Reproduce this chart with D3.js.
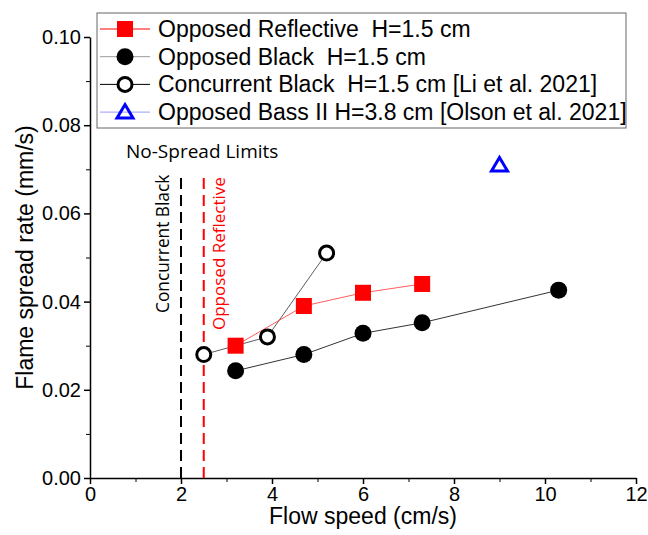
<html>
<head>
<script src="https://d3js.org/d3.v7.min.js"></script>
<style>
body { margin: 0; background: #fff; }
text { white-space: pre; }
</style>
</head>
<body>
<script>
var w = 648, h = 535;

// data
var reflX = [3.2, 4.7, 6.0, 7.3];
var reflY = [0.0300, 0.0390, 0.0420, 0.0440];
var blackX = [3.2, 4.7, 6.0, 7.3, 10.3];
var blackY = [0.0243, 0.0280, 0.0328, 0.0352, 0.0426];
var concX = [2.5, 3.9, 5.2];
var concY = [0.0280, 0.0320, 0.0510];
var bassX = [9.0];
var bassY = [0.0710];
var limitConcurrent = 2.0;
var limitReflective = 2.5;
var xTicks = [0, 2, 4, 6, 8, 10, 12];
var yTicks = [0, 0.02, 0.04, 0.06, 0.08, 0.10];
var legendLabels = ["Opposed Reflective  H=1.5 cm", "Opposed Black  H=1.5 cm",
  "Concurrent Black  H=1.5 cm [Li et al. 2021]", "Opposed Bass II H=3.8 cm [Olson et al. 2021]"];

var m = {left: 90, right: 12, top: 37, bottom: 57};

var svg = d3.select("body").append("svg")
  .attr("width", w).attr("height", h);

var x = d3.scaleLinear().domain([0, 12]).range([m.left, w - m.right]);
var y = d3.scaleLinear().domain([0, 0.10]).range([h - m.bottom, m.top]);

// minor ticks
svg.append("g").attr("transform", "translate(0," + y(0) + ")")
  .call(d3.axisBottom(x).tickValues(d3.range(1, 12, 2)).tickSize(4).tickFormat(""))
  .call(function(g) { g.select(".domain").remove(); });
svg.append("g").attr("transform", "translate(" + x(0) + ",0)")
  .call(d3.axisLeft(y).tickValues([0.01, 0.03, 0.05, 0.07, 0.09]).tickSize(4).tickFormat(""))
  .call(function(g) { g.select(".domain").remove(); });

var xa = svg.append("g").attr("transform", "translate(0," + y(0) + ")")
  .call(d3.axisBottom(x).tickValues(xTicks).tickSize(6).tickSizeOuter(0).tickFormat(d3.format("d")));
var ya = svg.append("g").attr("transform", "translate(" + x(0) + ",0)")
  .call(d3.axisLeft(y).tickValues(yTicks).tickSize(6).tickSizeOuter(0).tickFormat(d3.format(".2f")));

[xa, ya].forEach(function(a) {
  a.selectAll("path, line").attr("stroke", "#000").attr("stroke-width", 1.5);
  a.selectAll("text").attr("font-family", "Liberation Sans, Arial, sans-serif")
    .attr("font-size", 20).attr("fill", "#000");
});

svg.append("text").text("Flow speed (cm/s)")
  .attr("x", (x(0) + x(12)) / 2).attr("y", 524)
  .attr("text-anchor", "middle")
  .attr("font-family", "Liberation Sans, Arial, sans-serif").attr("font-size", 23);
svg.append("text").text("Flame spread rate (mm/s)")
  .attr("transform", "translate(33," + ((y(0) + y(0.1)) / 2) + ") rotate(-90)")
  .attr("text-anchor", "middle")
  .attr("font-family", "Liberation Sans, Arial, sans-serif").attr("font-size", 23);

// no-spread limit lines
svg.append("line")
  .attr("x1", x(limitConcurrent)).attr("x2", x(limitConcurrent))
  .attr("y1", y(0)).attr("y2", 174)
  .attr("stroke", "#000").attr("stroke-width", 2).attr("stroke-dasharray", "11,6");
svg.append("line")
  .attr("x1", x(limitReflective)).attr("x2", x(limitReflective))
  .attr("y1", y(0)).attr("y2", 174)
  .attr("stroke", "#f00").attr("stroke-width", 2).attr("stroke-dasharray", "11,6");

var labFont = "Open Sans, Noto Sans, sans-serif";
svg.append("text").text("No-Spread Limits")
  .attr("x", 126).attr("y", 158)
  .attr("font-family", labFont).attr("font-size", 19);
svg.append("text").text("Concurrent Black")
  .attr("transform", "translate(" + (x(limitConcurrent) - 12) + ",313) rotate(-90)")
  .attr("font-family", labFont).attr("font-size", 17.3);
svg.append("text").text("Opposed Reflective")
  .attr("transform", "translate(" + (x(limitReflective) + 21) + ",330) rotate(-90)")
  .attr("fill", "#f00")
  .attr("font-family", labFont).attr("font-size", 17);

var line = d3.line().x(function(d) { return x(d[0]); }).y(function(d) { return y(d[1]); });
var refl = d3.zip(reflX, reflY), black = d3.zip(blackX, blackY),
    conc = d3.zip(concX, concY), bass = d3.zip(bassX, bassY);

svg.append("path").datum(black).attr("d", line)
  .attr("fill", "none").attr("stroke", "#333").attr("stroke-width", 1);
svg.append("path").datum(conc).attr("d", line)
  .attr("fill", "none").attr("stroke", "#333").attr("stroke-width", 0.8);
svg.append("path").datum(refl).attr("d", line)
  .attr("fill", "none").attr("stroke", "#f33").attr("stroke-width", 0.8);

var sq = 16;
function drawSquare(g, cx, cy) {
  g.append("rect").attr("x", cx - sq / 2).attr("y", cy - sq / 2)
    .attr("width", sq).attr("height", sq).attr("fill", "#f00");
}
function drawDot(g, cx, cy) {
  g.append("circle").attr("cx", cx).attr("cy", cy).attr("r", 8.5).attr("fill", "#000");
}
function drawOpen(g, cx, cy) {
  g.append("circle").attr("cx", cx).attr("cy", cy).attr("r", 7)
    .attr("fill", "#fff").attr("stroke", "#000").attr("stroke-width", 3);
}
function drawTri(g, cx, cy) {
  g.append("path")
    .attr("d", "M" + cx + "," + (cy - 7.5) + "L" + (cx + 8) + "," + (cy + 6) + "L" + (cx - 8) + "," + (cy + 6) + "Z")
    .attr("fill", "none").attr("stroke", "#00f").attr("stroke-width", 3);
}

black.forEach(function(d) { drawDot(svg, x(d[0]), y(d[1])); });
refl.forEach(function(d) { drawSquare(svg, x(d[0]), y(d[1])); });
conc.forEach(function(d) { drawOpen(svg, x(d[0]), y(d[1])); });
bass.forEach(function(d) { drawTri(svg, x(d[0]), y(d[1])); });

// legend
var lg = svg.append("g");
lg.append("rect").attr("x", 97).attr("y", 13).attr("width", 529).attr("height", 115)
  .attr("fill", "#fff").attr("stroke", "#666").attr("stroke-width", 1);
var lineCols = ["#f00", "#999", "#000", "#99f"];
var drawers = [drawSquare, drawDot, drawOpen, drawTri];
legendLabels.forEach(function(t, i) {
  var yy = 29 + i * 27.7;
  lg.append("line").attr("x1", 100).attr("x2", 150).attr("y1", yy).attr("y2", yy)
    .attr("stroke", lineCols[i]).attr("stroke-width", 1);
  drawers[i](lg, 125, yy);
  lg.append("text").text(t).attr("x", 158).attr("y", yy + 8)
    .attr("font-family", "Liberation Sans, Arial, sans-serif").attr("font-size", 23);
});
</script>
</body>
</html>
